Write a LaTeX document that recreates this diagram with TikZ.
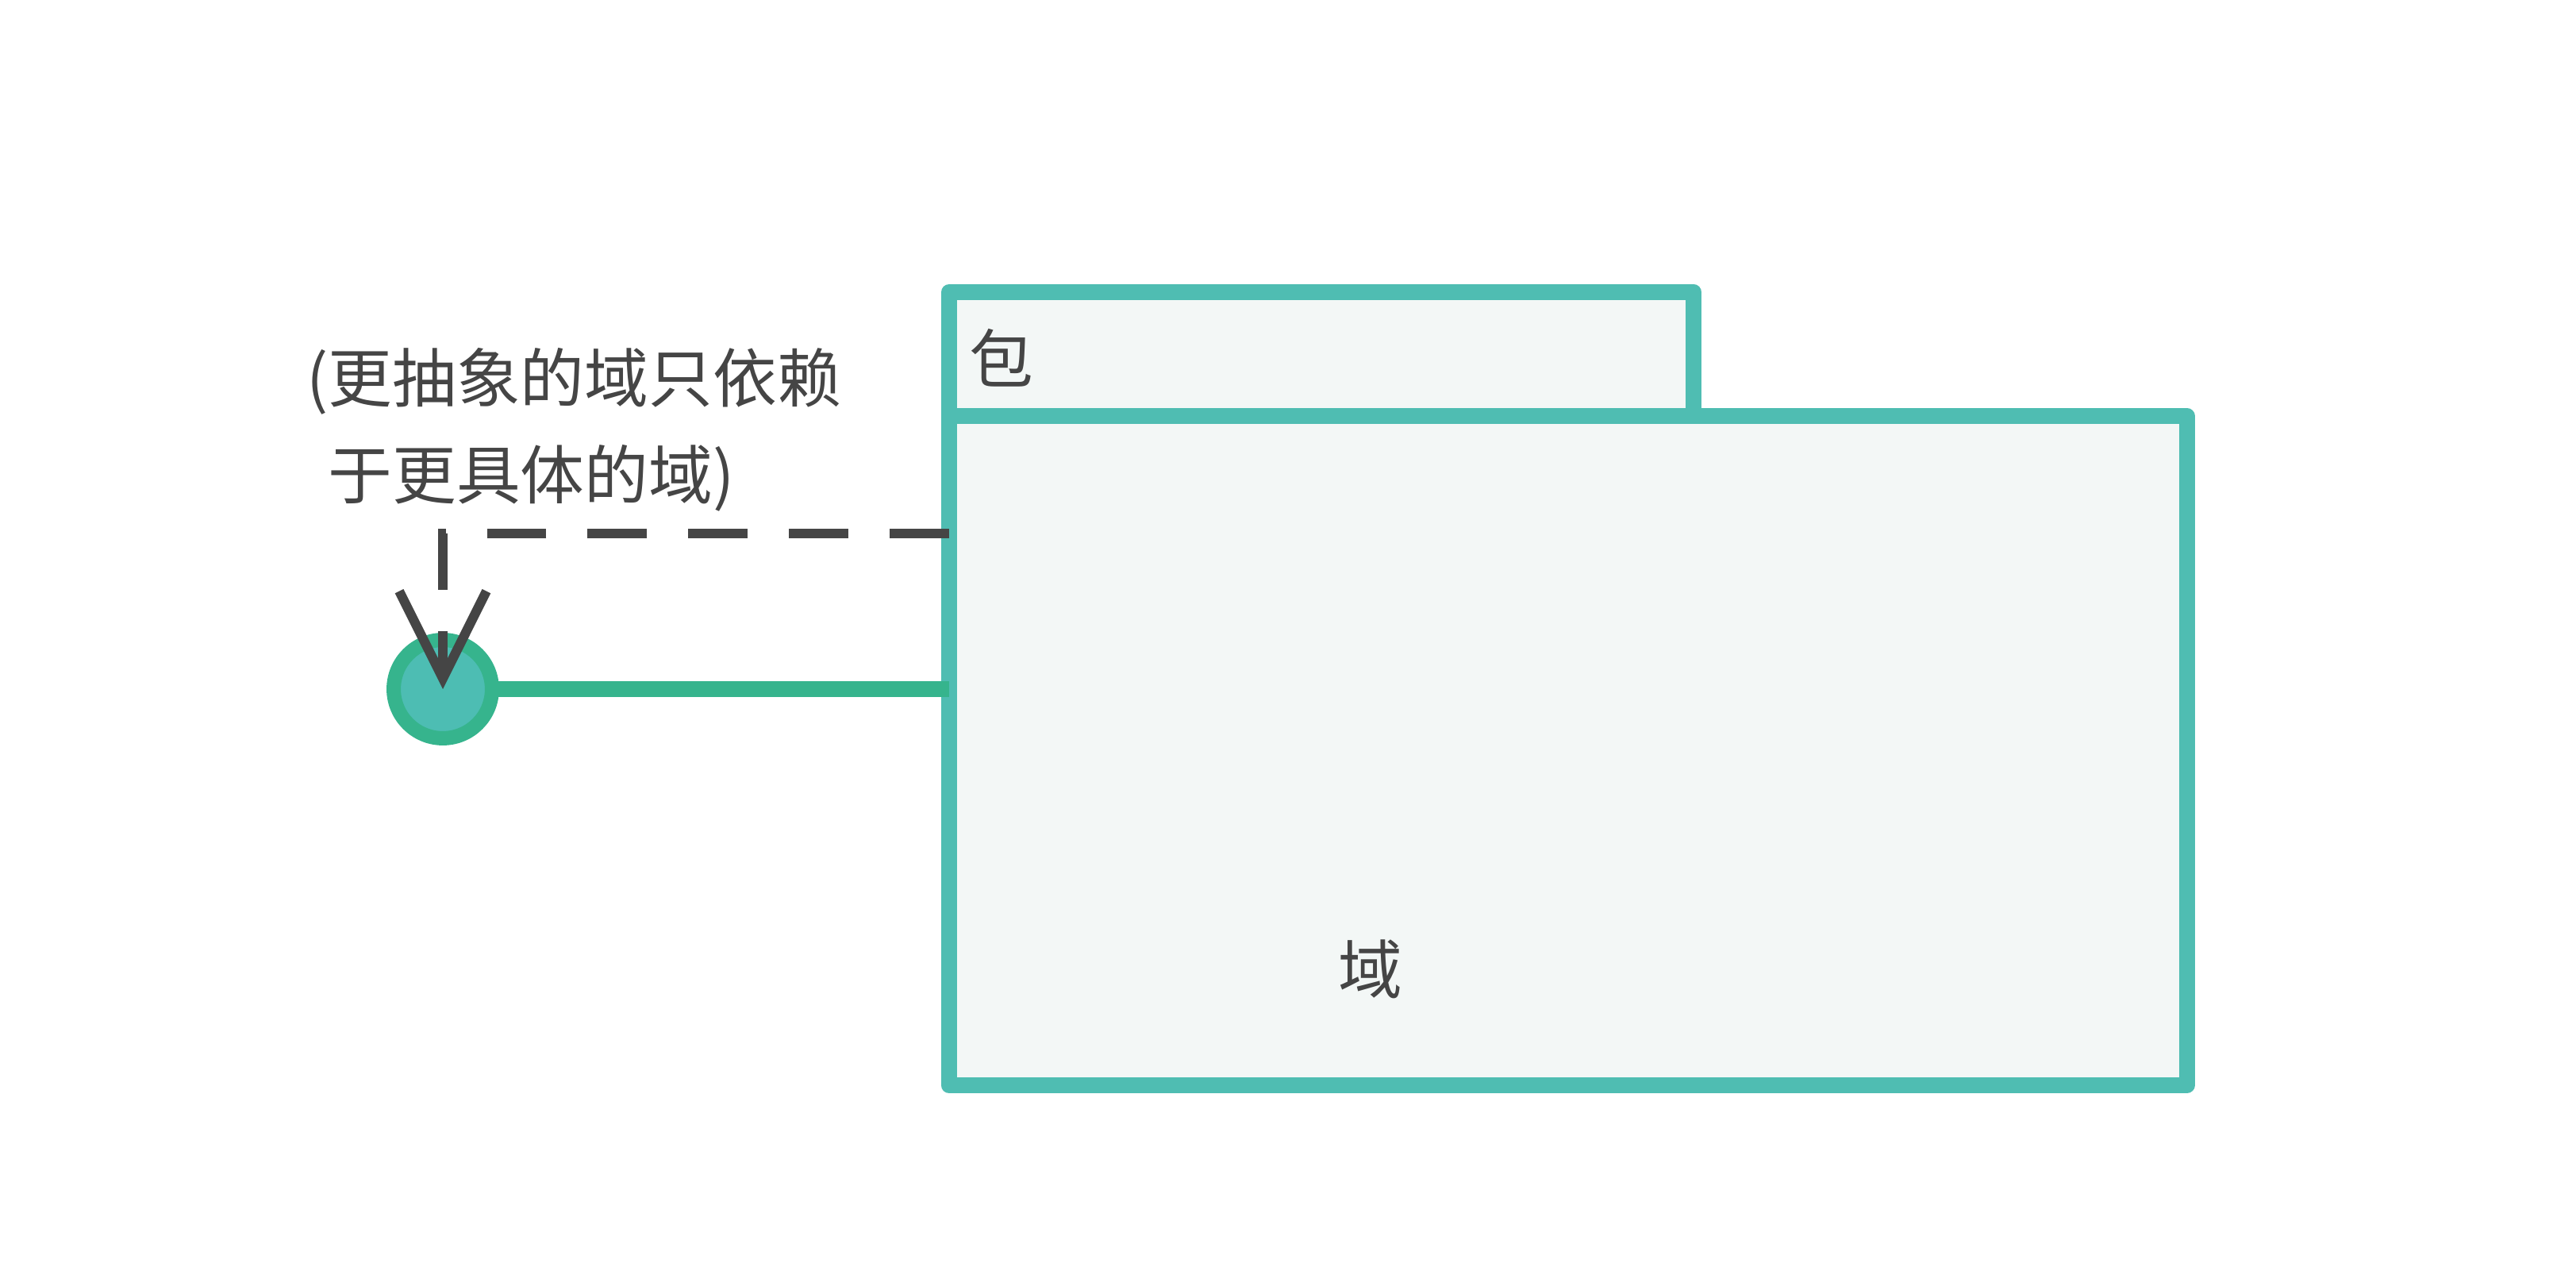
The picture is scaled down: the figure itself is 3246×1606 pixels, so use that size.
\documentclass[tikz,border=0pt]{standalone}
\usepackage{fontspec}
\newfontfamily\cjk{Noto Sans CJK SC}
\usetikzlibrary{calc, positioning, arrows.meta}
\definecolor{boxline}{HTML}{4FBDB2}
\definecolor{boxfill}{HTML}{F3F7F6}
\definecolor{ringgreen}{HTML}{36B48D}
\definecolor{dotfill}{HTML}{4DBDB3}
\definecolor{inkgray}{HTML}{454545}

\begin{document}
\begin{tikzpicture}[x=0.005cm, y=-0.005cm,
    font=\cjk\fontsize{11.5}{17.3}\selectfont, text=inkgray,
    pkgbox/.style={draw=boxline, fill=boxfill, line width=0.1cm, line join=round,
      inner sep=0, outer sep=0, anchor=north west},
    iface/.style={circle, draw=ringgreen, fill=dotfill, line width=0.09cm,
      minimum size=0.62cm, inner sep=0, outer sep=0},
    provides/.style={draw=ringgreen, line width=0.1cm},
    depends/.style={draw=inkgray, line width=0.06cm, dash pattern=on 0.375cm off 0.26cm,
      -{Straight Barb[length=0.55cm, width=0.55cm]}}]
    \useasboundingbox (0,0) rectangle (3246,1606);

    % Package: domain box with its tab
    \node[pkgbox, minimum width=7.805cm, minimum height=4.22cm] (domain) at (1196,524) {};
    \node[pkgbox, minimum width=4.695cm, minimum height=0.78cm] (pkg) at (1196,368) {};
    \node at (1262,451) {包};
    \node at (1727,1221) {域};

    % Interface (lollipop)
    \node[iface] (port) at (558,868) {};
    \draw[provides] (port.east) -- (port.east -| domain.west);

    % Dependency note and dashed arrow
    \node[anchor=north west, inner sep=0, align=left] (note) at (385,437)
      {(更抽象的域只依赖\\\hphantom{(}于更具体的域)};
    \coordinate (dep) at ([yshift=-0.74cm]domain.north west);
    \draw[depends] (dep) -| (port.center);
\end{tikzpicture}
\end{document}
